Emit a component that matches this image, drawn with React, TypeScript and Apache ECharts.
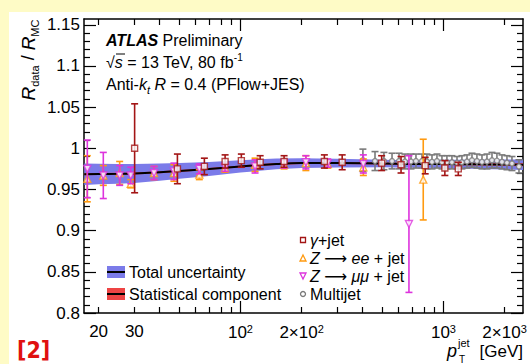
import React, { useEffect, useRef } from "react";
import * as echarts from "echarts";

const X_MIN = 16.95;
const X_MAX = 2465;
const Y_MIN = 0.8;
const Y_MAX = 1.157;

const xMajorTicks = [100, 1000];
const xMinorTicks = [20, 30, 40, 50, 60, 70, 80, 90, 200, 300, 400, 500, 600, 700, 800, 900, 2000];
const xLabelValues = [20, 30, 100, 200, 1000, 2000];
const xLabelTexts = ["20", "30", "10{sup|2}", "2×10{sup|2}", "10{sup|3}", "2×10{sup|3}"];
const yMajorTicks = [0.8, 0.85, 0.9, 0.95, 1.0, 1.05, 1.1, 1.15];
const yLabelTexts = ["0.8", "0.85", "0.9", "0.95", "1", "1.05", "1.1", "1.15"];

// Total uncertainty band (central value and half-widths)
const bandPt = [17, 20, 25, 30, 40, 50, 70, 100, 150, 200, 300, 500, 700, 1000, 1500, 2000, 2465];
const bandCenter = [0.9685, 0.9687, 0.969, 0.9695, 0.971, 0.9725, 0.975, 0.978, 0.981, 0.982, 0.982, 0.9815, 0.981, 0.981, 0.9805, 0.9803, 0.98];
const bandTotal = [0.013, 0.0125, 0.012, 0.0115, 0.0105, 0.0095, 0.0085, 0.0075, 0.0065, 0.006, 0.0052, 0.0045, 0.0045, 0.005, 0.0055, 0.006, 0.0065];
const bandStat = [0.0012, 0.0012, 0.0012, 0.0012, 0.0012, 0.0012, 0.0012, 0.0012, 0.0012, 0.0012, 0.0012, 0.0012, 0.0013, 0.0014, 0.0015, 0.0016, 0.0017];

// gamma + jet
const gammaPt = [30.1, 48.9, 66.4, 84, 101, 125, 164, 259, 317, 496, 618, 813, 1016, 1183];
const gammaVal = [1.0, 0.975, 0.978, 0.984, 0.985, 0.983, 0.984, 0.984, 0.983, 0.982, 0.98, 0.979, 0.976, 0.975];
const gammaErr = [0.054, 0.018, 0.01, 0.008, 0.008, 0.008, 0.007, 0.008, 0.009, 0.009, 0.01, 0.01, 0.009, 0.008];

// Z -> ee + jet
const zeePt = [17.6, 21.1, 25.4, 28.8, 37.5, 47, 62.7, 84, 118, 164, 210, 269, 403, 795];
const zeeVal = [0.963, 0.967, 0.97, 0.957, 0.97, 0.97, 0.968, 0.976, 0.98, 0.98, 0.982, 0.981, 0.977, 0.962];
const zeeErr = [0.028, 0.012, 0.014, 0.005, 0.008, 0.01, 0.006, 0.005, 0.008, 0.005, 0.009, 0.005, 0.01, 0.049];

// Z -> mumu + jet
const zmmPt = [17.6, 21.1, 25.4, 28.8, 37.5, 47, 62.7, 84, 118, 164, 210, 269, 403, 676];
const zmmVal = [0.975, 0.967, 0.967, 0.967, 0.97, 0.972, 0.975, 0.977, 0.978, 0.981, 0.983, 0.982, 0.981, 0.908];
const zmmErr = [0.035, 0.028, 0.012, 0.01, 0.008, 0.01, 0.006, 0.005, 0.008, 0.005, 0.008, 0.005, 0.011, 0.083];

// Multijet
const mjPt = [401, 460, 509, 558, 604, 646, 692, 732, 784, 829, 878, 929, 983, 1040, 1101, 1166, 1233, 1306, 1382, 1462, 1548, 1638, 1734, 1834, 1942, 2055, 2175, 2355];
const mjVal = [0.9855, 0.9845, 0.9845, 0.9845, 0.9845, 0.984, 0.984, 0.9845, 0.9845, 0.984, 0.9835, 0.9845, 0.983, 0.983, 0.983, 0.9825, 0.983, 0.984, 0.9855, 0.9845, 0.9835, 0.984, 0.9855, 0.985, 0.9835, 0.9825, 0.9815, 0.978];
const mjErr = [0.0135, 0.0115, 0.0105, 0.0095, 0.0095, 0.009, 0.009, 0.0085, 0.0085, 0.009, 0.0085, 0.0085, 0.008, 0.008, 0.008, 0.0075, 0.008, 0.008, 0.0085, 0.0085, 0.0085, 0.009, 0.0095, 0.009, 0.0085, 0.0085, 0.0085, 0.008];

const FONT = "'Liberation Sans', Arial, Helvetica, sans-serif";
const C_GAMMA = "#a31515";
const C_ZEE = "#ff9a10";
const C_ZMM = "#dd33dd";
const C_MJ = "#7a7a7a";
const C_BAND = "#7b7be9";
const C_STAT = "#ee4444";

const L = (v: number) => Math.log10(v);

function minorY(): number[] {
  const out: number[] = [];
  for (let i = 81; i <= 115; i++) {
    if (i % 5 !== 0) out.push(i / 100);
  }
  return out;
}

function errorSeries(pts: number[], vals: number[], errs: number[], color: string, z: number) {
  return {
    type: "custom",
    xAxisIndex: 0,
    yAxisIndex: 0,
    z,
    silent: true,
    encode: { x: 0, y: 1 },
    data: pts.map((p, i) => [L(p), vals[i], errs[i]]),
    renderItem: (params: any, api: any) => {
      const x = api.value(0);
      const y = api.value(1);
      const e = api.value(2);
      const t = api.coord([x, y + e]);
      const b = api.coord([x, y - e]);
      const w = 3.5;
      const st = { stroke: color, lineWidth: 1.6 };
      return {
        type: "group",
        children: [
          { type: "line", shape: { x1: t[0], y1: t[1], x2: b[0], y2: b[1] }, style: st },
          { type: "line", shape: { x1: t[0] - w, y1: t[1], x2: t[0] + w, y2: t[1] }, style: st },
          { type: "line", shape: { x1: b[0] - w, y1: b[1], x2: b[0] + w, y2: b[1] }, style: st },
        ],
      };
    },
  };
}

function markerSeries(pts: number[], vals: number[], color: string, symbol: string, size: number, rotate: number, z: number) {
  return {
    type: "scatter",
    xAxisIndex: 0,
    yAxisIndex: 0,
    z,
    silent: true,
    symbol,
    symbolSize: size,
    symbolRotate: rotate,
    itemStyle: { color: "#ffffff", borderColor: color, borderWidth: 1.4 },
    data: pts.map((p, i) => [L(p), vals[i]]),
  };
}

function bandSeries(half: number[], color: string, z: number) {
  return {
    type: "custom",
    xAxisIndex: 0,
    yAxisIndex: 0,
    z,
    silent: true,
    encode: { x: 0, y: 1 },
    data: bandPt.map((p, i) => [L(p), bandCenter[i]]),
    renderItem: (params: any, api: any) => {
      if (params.dataIndex !== 0) return { type: "group", children: [] };
      const upper = bandPt.map((p, i) => api.coord([L(p), bandCenter[i] + half[i]]));
      const lower = bandPt.map((p, i) => api.coord([L(p), bandCenter[i] - half[i]])).reverse();
      return { type: "polygon", shape: { points: upper.concat(lower) }, style: { fill: color } };
    },
  };
}

function xAxisDef(position: string, ticks: number[], len: number, withLine: boolean, withLabel: boolean) {
  return {
    type: "value",
    gridIndex: 0,
    position,
    min: L(X_MIN),
    max: L(X_MAX),
    axisLine: { show: withLine, onZero: false, lineStyle: { color: "#000", width: 1.5 } },
    axisTick: { show: true, inside: true, length: len, customValues: ticks.map(L), lineStyle: { color: "#000", width: 1.2 } },
    axisLabel: withLabel
      ? {
          show: true,
          customValues: xLabelValues.map(L),
          margin: 10,
          color: "#000",
          fontSize: 17,
          fontFamily: FONT,
          formatter: (v: number) => {
            const i = xLabelValues.findIndex((x) => Math.abs(L(x) - v) < 1e-6);
            return i >= 0 ? xLabelTexts[i] : "";
          },
          rich: {
            sup: { fontSize: 11, fontFamily: FONT, color: "#000", verticalAlign: "top", padding: [0, 0, 8, 0] },
          },
        }
      : { show: false },
    splitLine: { show: false },
  };
}

function yAxisDef(position: string, ticks: number[], len: number, withLine: boolean, withLabel: boolean) {
  return {
    type: "value",
    gridIndex: 0,
    position,
    min: Y_MIN,
    max: Y_MAX,
    axisLine: { show: withLine, onZero: false, lineStyle: { color: "#000", width: 1.5 } },
    axisTick: { show: true, inside: true, length: len, customValues: ticks, lineStyle: { color: "#000", width: 1.2 } },
    axisLabel: withLabel
      ? {
          show: true,
          customValues: yMajorTicks,
          margin: 4,
          color: "#000",
          fontSize: 17,
          fontFamily: FONT,
          formatter: (v: number) => {
            const i = yMajorTicks.findIndex((x) => Math.abs(x - v) < 1e-6);
            return i >= 0 ? yLabelTexts[i] : "";
          },
        }
      : { show: false },
    splitLine: { show: false },
  };
}

function txt(x: number, y: number, text: string, extra: any = {}) {
  return {
    type: "text",
    x,
    y,
    z: 100,
    silent: true,
    style: {
      text,
      fontSize: 16,
      fontFamily: FONT,
      fill: "#000",
      align: "left",
      verticalAlign: "middle",
      ...extra,
    },
  };
}

const richBase = {
  i: { fontStyle: "italic", fontSize: 16, fontFamily: FONT, fill: "#000", color: "#000" },
  b: { fontStyle: "italic", fontWeight: "bold", fontSize: 16, fontFamily: FONT, color: "#000" },
  ar: { fontSize: 16, fontFamily: "'DejaVu Sans', sans-serif", color: "#000" },
  sup: { fontSize: 10, fontFamily: FONT, color: "#000", verticalAlign: "top", lineHeight: 20 },
  sub: { fontSize: 10, fontFamily: FONT, color: "#000", verticalAlign: "bottom", lineHeight: 20 },
  isub: { fontSize: 11, fontStyle: "italic", fontFamily: FONT, color: "#000", verticalAlign: "bottom", lineHeight: 22 },
};

export default function App() {
  const ref = useRef<HTMLDivElement>(null);

  useEffect(() => {
    if (!ref.current) return;
    const chart = echarts.init(ref.current, undefined, { renderer: "svg" });
    const yMinor = minorY();

    const option: any = {
      animation: false,
      backgroundColor: "transparent",
      grid: { left: 84, top: 19, right: 7, bottom: 51, containLabel: false, outerBoundsMode: "none" },
      xAxis: [
        xAxisDef("bottom", xMajorTicks, 12, true, true),
        xAxisDef("bottom", xMinorTicks, 6, false, false),
        xAxisDef("top", xMajorTicks, 12, true, false),
        xAxisDef("top", xMinorTicks, 6, false, false),
      ],
      yAxis: [
        yAxisDef("left", yMajorTicks, 12, true, true),
        yAxisDef("left", yMinor, 6, false, false),
        yAxisDef("right", yMajorTicks, 12, true, false),
        yAxisDef("right", yMinor, 6, false, false),
      ],
      series: [
        bandSeries(bandTotal, C_BAND, 1),
        bandSeries(bandStat, C_STAT, 2),
        {
          type: "line",
          xAxisIndex: 0,
          yAxisIndex: 0,
          z: 3,
          silent: true,
          showSymbol: false,
          symbol: "none",
          smooth: true,
          lineStyle: { color: "#000", width: 2 },
          data: bandPt.map((p, i) => [L(p), bandCenter[i]]),
        },
        errorSeries(mjPt, mjVal, mjErr, C_MJ, 4),
        markerSeries(mjPt, mjVal, C_MJ, "circle", 5, 0, 5),
        errorSeries(zeePt, zeeVal, zeeErr, C_ZEE, 6),
        markerSeries(zeePt, zeeVal, C_ZEE, "triangle", 7, 0, 7),
        errorSeries(zmmPt, zmmVal, zmmErr, C_ZMM, 8),
        markerSeries(zmmPt, zmmVal, C_ZMM, "triangle", 7, 180, 9),
        errorSeries(gammaPt, gammaVal, gammaErr, C_GAMMA, 10),
        markerSeries(gammaPt, gammaVal, C_GAMMA, "rect", 6, 0, 11),
      ],
      graphic: [
        {
          type: "text",
          x: 28,
          y: 60,
          rotation: Math.PI / 2,
          z: 100,
          silent: true,
          style: {
            text: "{r|R}{s|data} / {r|R}{s|MC}",
            fontSize: 18,
            fontFamily: FONT,
            fill: "#000",
            align: "center",
            verticalAlign: "middle",
            rich: {
              r: { fontStyle: "italic", fontSize: 19, fontFamily: FONT, lineHeight: 24 },
              s: { fontSize: 11, fontFamily: FONT, verticalAlign: "bottom", lineHeight: 20 },
            },
          },
        },
        txt(106, 40, "{b|ATLAS} Preliminary", { rich: richBase }),
        txt(106, 62, "√{i|s} = 13 TeV, 80 fb{sup|-1}", { rich: richBase }),
        {
          type: "line",
          z: 100,
          silent: true,
          shape: { x1: 116, y1: 54, x2: 125, y2: 54 },
          style: { stroke: "#000", lineWidth: 1 },
        },
        txt(106, 84, "Anti-{i|k}{isub|t} {i|R} = 0.4 (PFlow+JES)", { rich: richBase }),
        { type: "rect", z: 100, silent: true, shape: { x: 107, y: 266, width: 18, height: 12 }, style: { fill: C_BAND } },
        { type: "line", z: 101, silent: true, shape: { x1: 107, y1: 272, x2: 125, y2: 272 }, style: { stroke: "#000", lineWidth: 2 } },
        txt(129, 272, "Total uncertainty"),
        { type: "rect", z: 100, silent: true, shape: { x: 107, y: 288, width: 18, height: 12 }, style: { fill: C_STAT } },
        { type: "line", z: 101, silent: true, shape: { x1: 107, y1: 294, x2: 125, y2: 294 }, style: { stroke: "#000", lineWidth: 2 } },
        txt(129, 294, "Statistical component"),
        { type: "rect", z: 100, silent: true, shape: { x: 300.5, y: 237.5, width: 5, height: 5 }, style: { fill: "#fff", stroke: C_GAMMA, lineWidth: 1.3 } },
        txt(310, 240, "{i|γ}+jet", { rich: richBase }),
        { type: "polygon", z: 100, silent: true, shape: { points: [[303, 255], [306, 261], [300, 261]] }, style: { fill: "#fff", stroke: C_ZEE, lineWidth: 1.3 } },
        txt(310, 258, "{i|Z} {ar|⟶} {i|ee} + jet", { rich: richBase }),
        { type: "polygon", z: 100, silent: true, shape: { points: [[300, 273], [306, 273], [303, 279]] }, style: { fill: "#fff", stroke: C_ZMM, lineWidth: 1.3 } },
        txt(310, 276, "{i|Z} {ar|⟶} {i|μμ} + jet", { rich: richBase }),
        { type: "circle", z: 100, silent: true, shape: { cx: 303, cy: 294, r: 2.5 }, style: { fill: "#fff", stroke: C_MJ, lineWidth: 1.3 } },
        txt(310, 294, "Multijet"),
        txt(447, 351, "p", { fontStyle: "italic", fontSize: 18 }),
        txt(458, 343, "jet", { fontSize: 11 }),
        txt(459, 359, "T", { fontSize: 10 }),
        txt(523, 351, "[GeV]", { fontSize: 17, align: "right" }),
        {
          type: "text",
          x: 17,
          y: 350,
          z: 100,
          silent: true,
          style: {
            text: "[2]",
            fontSize: 23,
            fontWeight: "bold",
            fontFamily: "'Liberation Sans Narrow', 'DejaVu Sans Condensed', 'Liberation Sans', sans-serif",
            fill: "#e01010",
            align: "left",
            verticalAlign: "middle",
          },
        },
      ],
    };

    chart.setOption(option);
    return () => chart.dispose();
  }, []);

  return (
    <div style={{ position: "fixed", left: 0, top: 0, width: 530, height: 364, background: "#fefbc6" }}>
      <div style={{ position: "absolute", left: 9, top: 12, right: 0, bottom: 0, background: "#ffffff" }} />
      <div ref={ref} style={{ position: "absolute", left: 0, top: 0, width: 530, height: 364 }} />
    </div>
  );
}
